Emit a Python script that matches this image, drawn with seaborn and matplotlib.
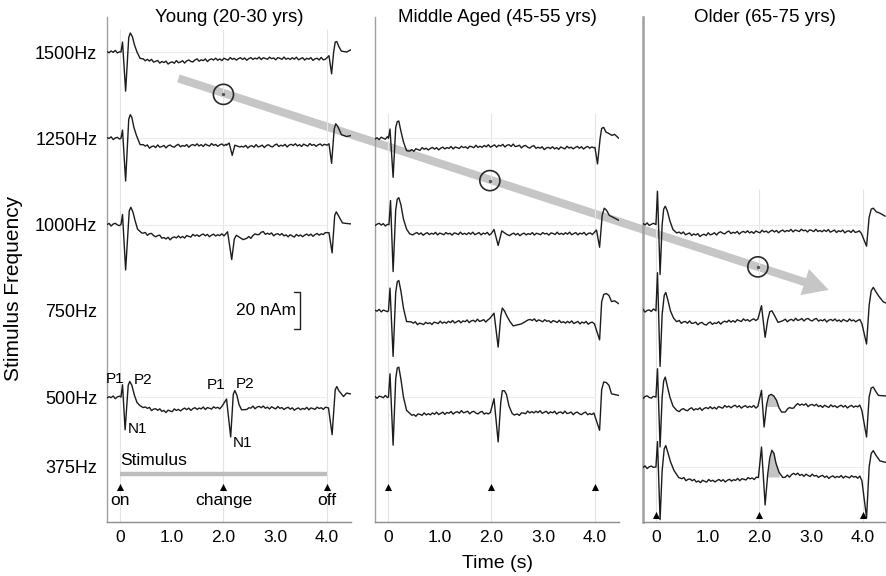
import matplotlib
matplotlib.use("Agg")
import matplotlib.pyplot as plt
from matplotlib.patches import ConnectionPatch
import numpy as np
import pandas as pd
import seaborn as sns

# === Style ===
sns.set_style("white")
plt.rcParams["font.family"] = ["Liberation Sans", "DejaVu Sans"]
plt.rcParams["text.color"] = "black"
plt.rcParams["xtick.labelcolor"] = "black"
plt.rcParams["ytick.labelcolor"] = "black"

# === Labels / axes data ===
PANEL_TITLES = ["Young (20-30 yrs)", "Middle Aged (45-55 yrs)", "Older (65-75 yrs)"]
FREQ_LABELS = ["1500Hz", "1250Hz", "1000Hz", "750Hz", "500Hz", "375Hz"]
FREQ_BASELINES = [237.5, 190.0, 142.5, 95.0, 47.5, 9.0]  # row offsets in nAm
TIME_TICKS = [0, 1, 2, 3, 4]
TIME_TICK_LABELS = ["0", "1.0", "2.0", "3.0", "4.0"]
TIME_MINOR = [0.5, 1.5, 2.5, 3.5]
EVENT_TIMES = [0, 2, 4]
EVENT_LABELS = ["on", "change", "off"]
TRIANGLE_Y = [-2.0, -2.0, -17.4]
EVENT_LINE_TOP = [250.0, 204.0, 162.0]
STIM_SPAN = [0, 4]
STIM_Y = 5.1

# circles marking the change response, and the trend arrow (panel 1 -> panel 3)
CIRCLE_T = [2.0, 1.97, 1.97]
CIRCLE_Y = [214.2, 166.7, 119.2]
ARROW_TAIL = (1.13, 223.0)
ARROW_HEAD = (3.34, 106.5)

RIPPLE = [0.3, -0.4, 0.6, -0.2, 0.9, -0.5, 0.1, 0.7, -0.6, 0.4, -0.1, 0.8, -0.7, 0.2,
          0.5, -0.4, 1.0, -0.3, 0.0, 0.6, -0.8, 0.3, 0.7, -0.2, -0.6, 0.4, 0.9, -0.5,
          0.2, -0.3, 0.6, -0.9, 0.1, 0.5, -0.2, 0.8, -0.4, 0.3, -0.7, 0.6, 0.0, -0.5,
          0.9, -0.1, 0.4, -0.6, 0.2, 0.7, -0.3, 0.5, -0.8, 0.1, 0.6, -0.4, 0.3, -0.2,
          0.8, -0.6, 0.4, 0.0, -0.5, 0.7, -0.1, 0.3, -0.7, 0.5, 0.2, -0.4, 0.9, -0.3]
RIPPLE_STEP = 0.04

# === Evoked responses: (time s, amplitude nAm relative to row baseline) ===
YOUNG_1500 = [(-0.25, 0), (0.02, 0), (0.05, 5.5), (0.11, -21.5), (0.17, 8), (0.20, 10.5),
              (0.24, 8.5), (0.28, 4), (0.33, 0), (0.39, -3.5), (0.5, -4.5), (0.77, -5.5),
              (0.97, -6), (1.55, -4.5), (2.0, -4), (2.84, -3.5), (3.98, -4), (4.04, -2),
              (4.09, -12), (4.13, 0), (4.16, 5.5), (4.19, 5.8), (4.23, 3), (4.28, 0.5),
              (4.38, 0), (4.48, 1.5)]
YOUNG_1250 = [(-0.25, 0), (0.02, 0), (0.05, 4.5), (0.11, -23.5), (0.17, 10.5), (0.20, 13),
              (0.23, 11.5), (0.27, 6), (0.32, 1.5), (0.39, -3.5), (0.58, -4.8), (1.55, -3.8),
              (2.06, -3.8), (2.11, -2.6), (2.17, -9.4), (2.22, -3.8), (2.32, -4.8), (3.3, -3.8),
              (4.0, -3.8), (4.04, -3), (4.09, -13.8), (4.14, 5), (4.17, 8), (4.21, 6.5),
              (4.28, 2), (4.38, 1), (4.48, 1.6)]
YOUNG_1000 = [(-0.25, 0), (0.02, 0), (0.05, 5.5), (0.11, -25), (0.18, 7.5), (0.21, 9.5),
              (0.25, 7), (0.29, 2.5), (0.34, -2.5), (0.42, -4.6), (0.6, -5.5), (0.9, -7.7),
              (1.55, -5.9), (2.0, -5.9), (2.08, -4), (2.16, -19.3), (2.21, -8), (2.25, -5.9),
              (2.38, -8.3), (2.55, -6.6), (2.71, -4.6), (3.37, -6.4), (3.98, -5.2), (4.04, -4.5),
              (4.10, -15.6), (4.15, 5), (4.18, 7), (4.22, 5), (4.3, 0.9), (4.38, 0.6), (4.48, 0.3)]
YOUNG_500 = [(-0.25, 0), (0.02, 0), (0.05, 6.8), (0.10, -18), (0.16, 6.5), (0.19, 8.6),
             (0.23, 6.5), (0.28, 1), (0.33, -3), (0.39, -4.8), (0.6, -6.5), (0.9, -7.9),
             (1.3, -6.6), (1.87, -6), (2.0, -5.5), (2.06, -1.1), (2.14, -22), (2.19, 1.5),
             (2.22, 3.6), (2.26, 1), (2.3, -4), (2.35, -7), (2.58, -5.5), (3.48, -6.6),
             (4.03, -6), (4.10, -20.7), (4.16, 4), (4.19, 5.8), (4.23, 3.5), (4.32, 0.3),
             (4.38, 2.2), (4.48, 1.6)]

MIDDLE_1250 = [(-0.25, 0), (0.01, 0), (0.04, 5.1), (0.10, -21.5), (0.15, 6), (0.18, 9.2),
               (0.21, 9.5), (0.25, 4), (0.30, -2), (0.36, -6.8), (0.71, -5.9), (1.48, -5),
               (2.33, -4), (3.1, -5.5), (4.0, -5), (4.05, -14.1), (4.1, 0), (4.13, 5.5),
               (4.17, 6), (4.21, 3.5), (4.26, 2.8), (4.33, 1.6), (4.38, 2.2), (4.46, 0)]
MIDDLE_1000 = [(-0.25, 0), (0.02, 0), (0.05, 13.2), (0.10, -25.9), (0.15, 8), (0.18, 14),
               (0.21, 14.8), (0.25, 11), (0.30, 3), (0.36, -2.5), (0.42, -5.1), (1.0, -5.1),
               (2.0, -5.1), (2.05, -2.7), (2.13, -11.5), (2.2, -3.5), (2.3, -5.5), (3.0, -5.1),
               (3.98, -5.1), (4.03, -3), (4.09, -12.5), (4.14, 5), (4.18, 9), (4.22, 8),
               (4.28, 5), (4.35, 4), (4.47, 2.2)]
MIDDLE_750 = [(-0.25, 0), (0.01, 0), (0.04, 12.5), (0.10, -25.1), (0.15, 10), (0.18, 16),
              (0.21, 16.7), (0.25, 11), (0.30, 1.5), (0.36, -5.9), (0.6, -7.2), (1.49, -5.9),
              (1.96, -5.3), (2.05, -1.3), (2.13, -20), (2.18, -3), (2.21, 1.5), (2.25, 0),
              (2.3, -3), (2.36, -6), (2.42, -8.3), (2.58, -7.2), (2.71, -5), (3.45, -6.4),
              (4.0, -6.8), (4.09, -16), (4.13, 5), (4.17, 9), (4.22, 9.5), (4.27, 8.5),
              (4.32, 5.1), (4.38, 5.5), (4.46, 3.9)]
MIDDLE_500 = [(-0.25, 0), (0.01, 0), (0.04, 12.8), (0.10, -26.5), (0.15, 10), (0.18, 16),
              (0.21, 16.5), (0.25, 10), (0.30, 0), (0.36, -7.3), (0.46, -10), (1.0, -9.1),
              (1.5, -8.3), (2.0, -9.1), (2.05, -0.9), (2.13, -24.7), (2.18, -3), (2.21, 3.5),
              (2.25, 3.5), (2.29, 1.5), (2.34, -5), (2.40, -9), (2.44, -9.9), (2.76, -8.3),
              (3.5, -8.8), (4.0, -9.4), (4.09, -18.3), (4.13, 4), (4.17, 8.3), (4.22, 8),
              (4.27, 6.5), (4.32, 1.8), (4.46, 0.9)]

OLDER_1000 = [(-0.25, 0), (0.0, 0), (0.03, 18.3), (0.08, -27.5), (0.12, 0), (0.15, 8.5),
              (0.18, 10.1), (0.22, 7.5), (0.27, 2), (0.33, -2.8), (0.4, -4.6), (0.88, -6),
              (1.27, -4.6), (1.98, -4.1), (2.8, -3.3), (3.97, -4.1), (4.07, -11.9), (4.12, 4),
              (4.16, 8.5), (4.2, 9), (4.26, 7), (4.32, 6.4), (4.43, 4.6)]
OLDER_750 = [(-0.25, 0), (0.0, 0), (0.03, 21), (0.08, -30.6), (0.12, -2), (0.16, 8.5),
             (0.19, 10.1), (0.23, 6), (0.28, 0), (0.34, -4), (0.4, -6), (0.98, -7.3),
             (1.56, -5.5), (1.98, -5), (2.04, 2.8), (2.11, -14.6), (2.16, -5), (2.2, -0.5),
             (2.24, 0), (2.29, -2.5), (2.36, -6.4), (2.45, -5.5), (2.86, -4.8), (3.18, -5.2),
             (3.97, -5.5), (4.07, -18.3), (4.12, 3), (4.16, 11), (4.2, 12.9), (4.25, 10.5),
             (4.3, 8.3), (4.39, 5), (4.45, 4.2)]
OLDER_500 = [(-0.25, 0), (0.0, 0), (0.03, 15.6), (0.08, -27.5), (0.12, 0), (0.15, 9),
             (0.18, 11), (0.22, 6), (0.27, 0), (0.33, -5), (0.4, -7.3), (0.91, -6.4),
             (1.5, -5.2), (1.98, -5.5), (2.04, 3.7), (2.09, -16.5), (2.14, -4), (2.18, 0.8),
             (2.23, 1.5), (2.28, 0.5), (2.33, -1.8), (2.38, -6), (2.43, -8.3), (2.78, -4),
             (3.3, -5.2), (3.97, -5.2), (4.07, -22), (4.12, 0), (4.16, 5), (4.2, 5.5),
             (4.25, 3), (4.3, 0.9), (4.45, 0.6)]
OLDER_375 = [(-0.25, 0), (0.0, 0), (0.03, 14), (0.08, -29), (0.12, -2), (0.16, 10),
             (0.19, 11.8), (0.23, 8), (0.28, 3), (0.35, -2), (0.44, -5.8), (0.8, -8),
             (1.5, -7.3), (1.98, -6), (2.04, 11), (2.11, -20.9), (2.16, -4), (2.2, 5),
             (2.24, 9.2), (2.28, 7.5), (2.32, 2), (2.38, -3), (2.45, -5.8), (2.66, -4),
             (3.3, -5.5), (3.97, -5.5), (4.07, -28), (4.12, 0), (4.16, 7.5), (4.2, 9),
             (4.25, 6.5), (4.33, 3.3), (4.45, 2.5)]

# (panel, row index, points, quiet windows with ripple, shaded P2 window or None)
TRACES = [
    (0, 0, YOUNG_1500, [(-0.25, 0.0), (0.45, 3.98)], None),
    (0, 1, YOUNG_1250, [(-0.25, 0.0), (0.45, 2.05), (2.35, 3.98)], None),
    (0, 2, YOUNG_1000, [(-0.25, 0.0), (0.45, 2.03), (2.45, 3.98)], None),
    (0, 4, YOUNG_500, [(-0.25, 0.0), (0.45, 2.0), (2.45, 4.0)], None),
    (1, 1, MIDDLE_1250, [(-0.25, 0.0), (0.42, 3.98)], None),
    (1, 2, MIDDLE_1000, [(-0.25, 0.0), (0.48, 2.02), (2.35, 3.98)], None),
    (1, 3, MIDDLE_750, [(-0.25, 0.0), (0.45, 2.0), (2.75, 4.02)], None),
    (1, 4, MIDDLE_500, [(-0.25, 0.0), (0.5, 2.0), (2.5, 4.02)], None),
    (2, 2, OLDER_1000, [(-0.25, -0.02), (0.45, 4.0)], None),
    (2, 3, OLDER_750, [(-0.25, -0.02), (0.45, 2.0), (2.5, 4.0)], None),
    (2, 4, OLDER_500, [(-0.25, -0.02), (0.45, 2.0), (2.5, 4.0)], (2.14, 2.38, -5.2)),
    (2, 5, OLDER_375, [(-0.25, -0.02), (0.5, 2.0), (2.5, 4.0)], (2.14, 2.42, -5.5)),
]

# peak labels on the young 500 Hz trace: (text, time, nAm)
PEAK_LABELS = [("P1", -0.10, 57.3), ("P2", 0.44, 56.9), ("N1", 0.33, 30.0),
               ("P1", 1.86, 54.1), ("P2", 2.42, 54.7), ("N1", 2.37, 22.0)]

# === Layout (pixels of the 887x576 figure) ===
FIG_W, FIG_H = 887, 576
PANEL_LEFT = [107, 375, 643]
PANEL_WIDTH = 244
PANEL_BOTTOM = 54
PANEL_HEIGHT = 505
XLIM = (-0.25, 4.465)
YLIM = (-21.3, 256.8)
TRACE_COLOR = "#1c1c1c"


def build_trace(points, quiet, shift):
    """Join the response keypoints with the ripple along the flat stretches."""
    kp = np.array(points, dtype=float)
    t_kp, v_kp = kp[:, 0], kp[:, 1]
    ripple = np.array(RIPPLE)
    keep = np.ones(len(t_kp), dtype=bool)
    ts, vs = [], []
    for a, b in quiet:
        grid = np.arange(a, b + 1e-9, RIPPLE_STEP)
        base = np.interp(grid, t_kp, v_kp)
        idx = (np.arange(len(grid)) + shift) % len(ripple)
        ts.append(grid)
        vs.append(base + ripple[idx])
        keep &= ~((t_kp >= a) & (t_kp <= b))
    ts.append(t_kp[keep])
    vs.append(v_kp[keep])
    t = np.concatenate(ts)
    v = np.concatenate(vs)
    order = np.argsort(t, kind="stable")
    return t[order], v[order]


def make_frame():
    rows = []
    for i, (panel, row, points, quiet, _) in enumerate(TRACES):
        t, v = build_trace(points, quiet, shift=i * 9)
        base = FREQ_BASELINES[row]
        for tt, vv in zip(t, v):
            rows.append({"panel": panel, "trace": i, "t": tt, "nam": base + vv})
    return pd.DataFrame(rows)


def style_axes(ax, panel):
    ax.set_xlim(*XLIM)
    ax.set_ylim(*YLIM)
    ax.patch.set_alpha(0)
    ax.set_zorder(2)
    for side in ["top", "right"]:
        ax.spines[side].set_visible(False)
    ax.spines["left"].set_color("#a0a0a0")
    ax.spines["left"].set_linewidth(1.8 if panel == 2 else 1.0)
    ax.spines["bottom"].set_color("#8c8c8c")
    ax.spines["bottom"].set_linewidth(1.0)

    ax.set_xticks(TIME_TICKS)
    ax.set_xticklabels(TIME_TICK_LABELS)
    ax.set_xticks(TIME_MINOR, minor=True)
    ax.tick_params(axis="x", which="both", direction="in", length=4, color="#8c8c8c",
                   labelsize=12.5, pad=6)
    ax.set_yticks(FREQ_BASELINES)
    if panel == 0:
        ax.set_yticklabels(FREQ_LABELS)
    else:
        ax.set_yticklabels([])
    ax.tick_params(axis="y", direction="in", length=3, color="#a0a0a0", labelsize=13, pad=7)

    # stimulus event lines and row baselines
    ax.vlines(EVENT_TIMES, YLIM[0], EVENT_LINE_TOP[panel], color="#e4e4e4", lw=0.8, zorder=0)
    rows_here = sorted({row for p, row, *_ in TRACES if p == panel})
    ax.hlines([FREQ_BASELINES[r] for r in rows_here], 0, 4, color="#ececec", lw=0.8, zorder=0)

    ax.scatter(EVENT_TIMES, [TRIANGLE_Y[panel]] * len(EVENT_TIMES), marker="^", s=26,
               color="black", zorder=4, linewidths=0)


def main():
    df = make_frame()
    fig = plt.figure(figsize=(FIG_W / 100, FIG_H / 100), dpi=100)
    axes = []
    for panel in range(3):
        ax = fig.add_axes([PANEL_LEFT[panel] / FIG_W, PANEL_BOTTOM / FIG_H,
                           PANEL_WIDTH / FIG_W, PANEL_HEIGHT / FIG_H])
        style_axes(ax, panel)
        sns.lineplot(data=df[df["panel"] == panel], x="t", y="nam", units="trace",
                     estimator=None, sort=False, color=TRACE_COLOR, linewidth=1.0,
                     legend=False, ax=ax, zorder=3)
        ax.set_xlabel("")
        ax.set_ylabel("")

        # shaded change P2 (older group)
        for p, row, points, quiet, shade in TRACES:
            if p != panel or shade is None:
                continue
            t0, t1, level = shade
            kp = np.array(points, dtype=float)
            sel = (kp[:, 0] >= t0) & (kp[:, 0] <= t1)
            base = FREQ_BASELINES[row]
            ax.fill_between(kp[sel, 0], base + level, base + kp[sel, 1],
                            where=kp[sel, 1] > level, interpolate=True,
                            color="#c4c4c4", lw=0, zorder=2)

        # circles at the change response
        ax.scatter([CIRCLE_T[panel]], [CIRCLE_Y[panel]], s=210, facecolors="none",
                   edgecolors="#2a2a2a", linewidths=1.2, zorder=5)
        ax.scatter([CIRCLE_T[panel]], [CIRCLE_Y[panel]], s=2, color="#555555", zorder=5)

        fig.text((PANEL_LEFT[panel] + PANEL_WIDTH / 2) / FIG_W, 1 - 17 / FIG_H,
                 PANEL_TITLES[panel], ha="center", va="center", fontsize=13.5)
        axes.append(ax)

    ax1 = axes[0]
    # peak labels
    for text, t, y in PEAK_LABELS:
        ax1.text(t, y, text, ha="center", va="center", fontsize=11, zorder=6)

    # 20 nAm scale bar
    bar_t, bar_lo, bar_hi = 3.48, 85.1, 105.1
    ax1.plot([bar_t - 0.12, bar_t, bar_t, bar_t - 0.12], [bar_hi, bar_hi, bar_lo, bar_lo],
             color="#222222", lw=1.0)
    ax1.text(bar_t - 0.08, (bar_lo + bar_hi) / 2, "20 nAm", ha="right", va="center",
             fontsize=12.5)

    # stimulus bar and event labels
    ax1.plot(STIM_SPAN, [STIM_Y, STIM_Y], color="#bdbdbd", lw=3.2, solid_capstyle="butt")
    ax1.text(STIM_SPAN[0], 12.6, "Stimulus", ha="left", va="center", fontsize=12.5)
    for t, lab in zip(EVENT_TIMES, EVENT_LABELS):
        ax1.text(t, -9.6, lab, ha="center", va="center", fontsize=12.5)

    # trend arrow across the three panels
    arrow = ConnectionPatch(xyA=ARROW_TAIL, coordsA=axes[0].transData,
                            xyB=ARROW_HEAD, coordsB=axes[2].transData,
                            arrowstyle="simple,head_width=1.4,head_length=1.3,tail_width=0.42",
                            mutation_scale=14, color="#c6c6c6", lw=0, zorder=1)
    fig.add_artist(arrow)

    fig.text(14 / FIG_W, 1 - 288 / FIG_H, "Stimulus Frequency", rotation=90,
             ha="center", va="center", fontsize=15)
    fig.text(498 / FIG_W, 1 - 564 / FIG_H, "Time (s)", ha="center", va="center", fontsize=14)

    fig.savefig("out.png", dpi=100, facecolor="white")
    plt.close(fig)


if __name__ == "__main__":
    main()
